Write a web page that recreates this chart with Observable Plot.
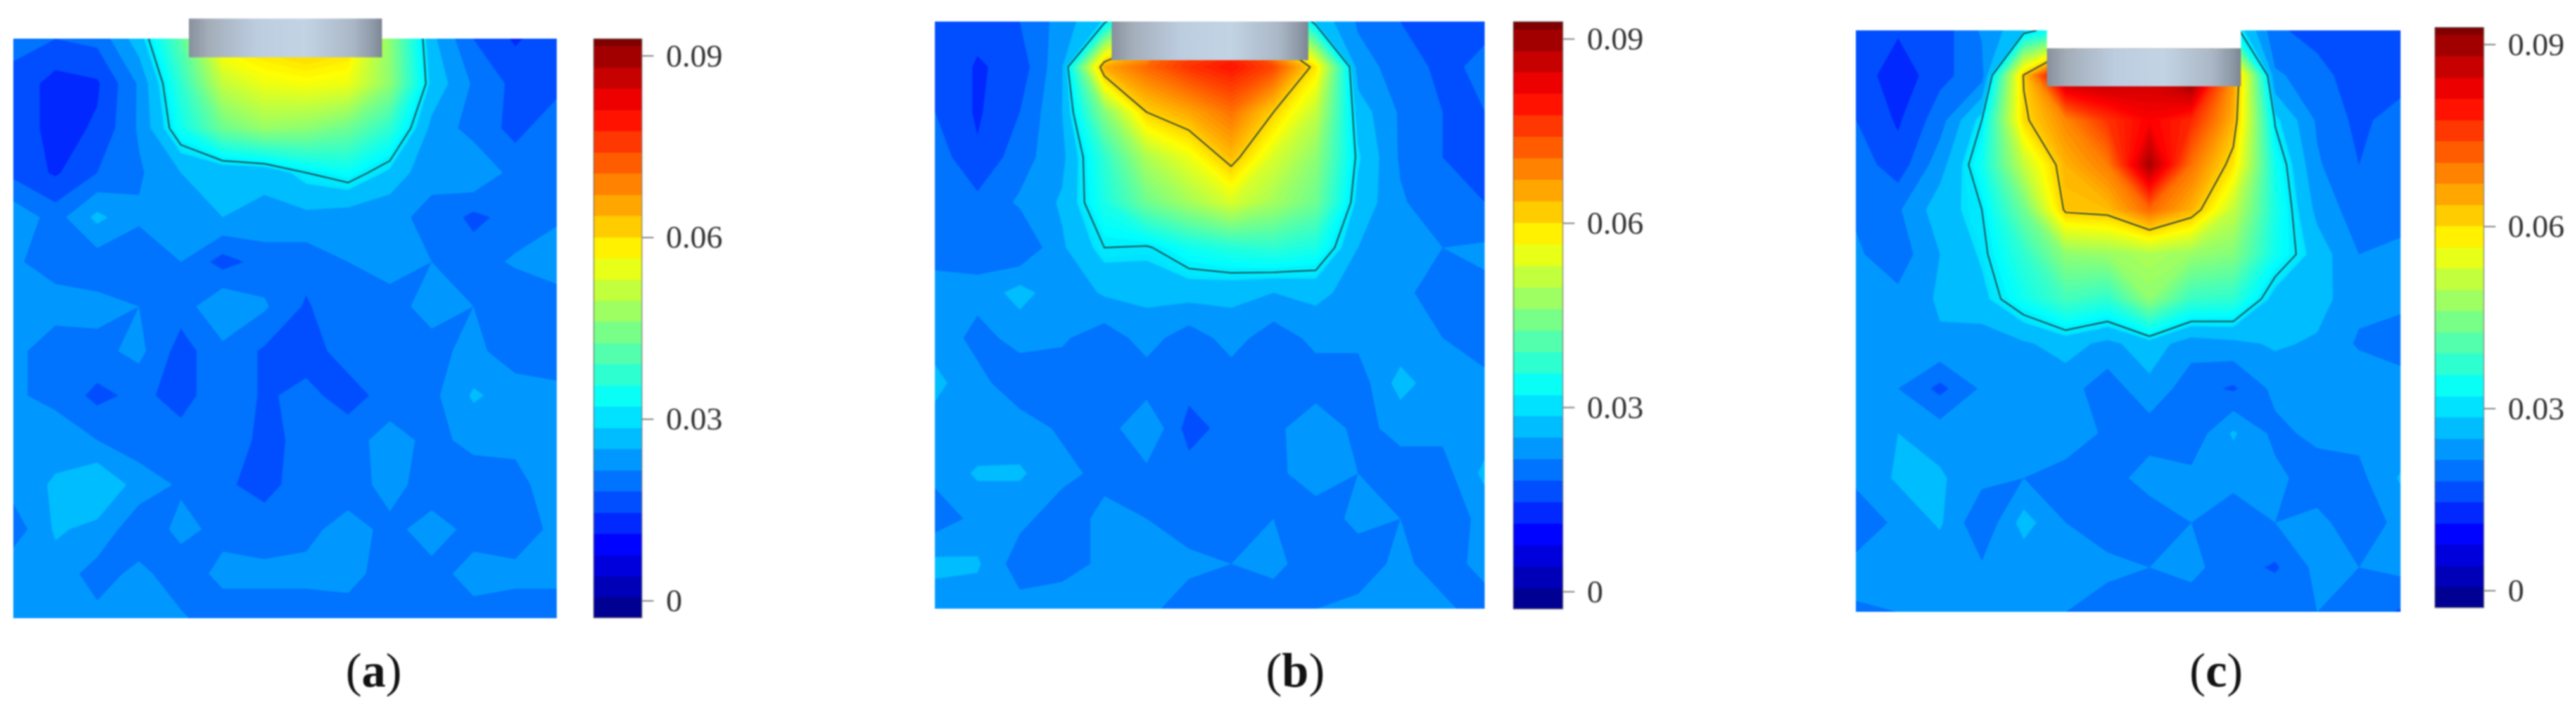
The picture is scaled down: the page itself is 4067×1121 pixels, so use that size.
<!DOCTYPE html>
<html>
<head>
<meta charset="utf-8">
<script src="https://cdn.jsdelivr.net/npm/d3@7"></script>
<script src="https://cdn.jsdelivr.net/npm/@observablehq/plot@0.6"></script>
<style>
html,body{margin:0;padding:0;background:#fff;}
#page{position:relative;width:4067px;height:1121px;overflow:hidden;background:#fff;}
.piece{position:absolute;filter:blur(1.3px);}
.piece svg{display:block;overflow:visible;background:transparent;}
.cap{position:absolute;font-family:"Liberation Serif",serif;font-size:76px;line-height:1;color:#111;transform:translateX(-50%);white-space:nowrap;filter:blur(0.8px);}
</style>
</head>
<body>
<div id="page"></div>
<script>
const panelNames = ["a","b","c"];
const tickValues = [0,0.03,0.06,0.09];

const fieldA = [
[.019,.018,.019,.027,.040,.058,.060,.062,.060,.045,.026,.018,.014,.017],
[.017,.013,.014,.022,.036,.050,.054,.055,.054,.045,.0276,.021,.017,.017],
[.017,.013,.015,.022,.033,.042,.046,.045,.042,.036,.024,.020,.017,.020],
[.017,.014,.018,.021,.025,.0256,.026,.030,.032,.0278,.022,.025,.020,.021],
[.024,.020,.026,.022,.024,.025,.024,.024,.023,.022,.021,.017,.0195,.021],
[.022,.020,.0195,.0195,.0215,.0165,.0195,.0195,.0215,.0225,.0215,.020,.022,.0235],
[.023,.023,.0225,.0215,.0195,.025,.022,.0175,.0215,.0205,.0225,.0215,.0185,.0195],
[.0225,.0195,.0205,.0225,.0165,.0205,.0175,.0165,.0195,.0195,.0205,.0225,.0195,.0195],
[.022,.0205,.017,.019,.0165,.0205,.0175,.019,.0165,.0195,.0205,.0255,.0235,.0225],
[.023,.0235,.0215,.0195,.0195,.0215,.0165,.0195,.020,.023,.0205,.0225,.023,.023],
[.023,.0255,.0285,.0235,.021,.0185,.017,.0195,.0195,.023,.0195,.0195,.0195,.025],
[.0195,.0255,.024,.019,.0225,.0205,.0195,.0205,.023,.0205,.023,.0205,.0195,.0225],
[.0245,.0235,.020,.0225,.0195,.0225,.0225,.0225,.023,.0195,.0205,.0225,.0225,.0225],
[.023,.023,.0225,.0235,.022,.0195,.0195,.0195,.0195,.0195,.0205,.0205,.0195,.0195]
];
const fieldB = [
[.017,.016,.018,.023,.029,.050,.070,.070,.050,.028,.021,.018,.016,.017],
[.018,.014,.016,.0245,.064,.070,.075,.078,.073,.058,.023,.020,.017,.019],
[.018,.014,.018,.025,.044,.060,.064,.069,.060,.050,.027,.021,.018,.018],
[.020,.015,.020,.024,.036,.048,.054,.062,.052,.045,.029,.021,.018,.018],
[.020,.019,.022,.0255,.034,.042,.047,.052,.047,.042,.0275,.022,.019,.018],
[.020,.020,.018,.0245,.030,.0295,.033,.035,.036,.034,.025,.023,.0215,.022],
[.023,.0225,.0265,.0225,.0255,.026,.0265,.026,.025,.026,.0235,.0225,.0195,.021],
[.0235,.0205,.0225,.022,.0195,.023,.0195,.023,.0195,.0225,.0225,.0225,.0215,.0195],
[.026,.0225,.0195,.0195,.0195,.0195,.0195,.0195,.0195,.0195,.0195,.0265,.0225,.0225],
[.0235,.0225,.023,.021,.0195,.025,.0165,.0195,.0205,.024,.0205,.0225,.0225,.023],
[.0225,.0255,.0255,.0225,.0205,.0205,.0195,.0195,.0205,.0235,.0215,.020,.020,.026],
[.0195,.0225,.0225,.0195,.0225,.0215,.0195,.0195,.0215,.0195,.0225,.0215,.0195,.0225],
[.026,.0255,.0195,.0205,.022,.0225,.0225,.0215,.0225,.0195,.0195,.0225,.0195,.023],
[.023,.023,.023,.023,.023,.0225,.0195,.0195,.0195,.0215,.0225,.0225,.0225,.0195]
];
const fieldC = [
[.016,.015,.016,.022,.028,.035,.060,.065,.060,.032,.019,.016,.017,.015],
[.017,.012,.017,.020,.0605,.088,.088,.085,.092,.066,.022,.020,.015,.016],
[.018,.014,.020,.030,.059,.067,.075,.080,.076,.063,.0295,.021,.017,.020],
[.020,.016,.0235,.033,.050,.063,.068,.088,.069,.058,.033,.022,.018,.021],
[.021,.021,.027,.030,.042,.061,.062,.070,.063,.050,.034,.024,.0195,.019],
[.022,.0195,.025,.029,.036,.045,.046,.048,.046,.044,.033,.027,.0215,.023],
[.024,.0225,.0255,.0275,.033,.038,.036,.045,.037,.036,.027,.0265,.0225,.0225],
[.0225,.023,.0245,.023,.0245,.0265,.024,.027,.023,.024,.0255,.0245,.021,.0195],
[.0245,.0215,.017,.022,.0215,.023,.0195,.024,.0195,.0175,.0225,.025,.0245,.0235],
[.022,.025,.0235,.0225,.022,.025,.0205,.0195,.019,.0255,.0205,.0225,.0225,.022],
[.0225,.0255,.0255,.0225,.0215,.019,.0195,.0235,.0225,.0225,.0225,.0195,.0205,.0255],
[.0185,.0225,.0255,.0185,.0265,.0215,.0195,.0185,.0215,.0195,.0215,.0225,.0195,.0225],
[.023,.0225,.0225,.022,.0225,.0225,.0225,.0215,.0225,.0195,.0175,.0225,.0215,.0225],
[.021,.0215,.0215,.0215,.024,.0215,.0195,.0195,.0195,.0215,.0215,.0215,.0205,.0175]
];
const fields = [fieldA, fieldB, fieldC];

// cylinder extent in grid units: left, right, top, bottom
const cylinderLeft = [4.2,4.18,4.56];
const cylinderRight = [8.82,8.83,9.19];
const cylinderTop = [-0.45,0,0.40];
const cylinderBottom = [0.42,0.855,1.25];
const notchTop = [null,null,-0.02];

// jet colour ramp
const rampValues = [-0.0048,0.0072,0.0312,0.0552,0.0792,0.0912];
const rampColors = ["#000080","#0000ff","#00ffff","#ffff00","#ff0000","#800000"];
const lineLevels = [[0.03],[0.03,0.06],[0.03,0.06]];
const step = 0.0035;
const levels = d3.range(-0.003,0.093,step);
const mapLevels = [...levels.filter(v=>v<0.029), ...d3.range(0.029,0.093,0.001)];
const barMin = -0.0028, barMax = 0.0928;

// page layout
const heatBox = [
  {left:21,top:61,width:858,height:915,over:31},
  {left:1476,top:34,width:868,height:927,over:0},
  {left:2930,top:48,width:860,height:918,over:0}
];
const barBox = [
  {left:937,top:61,width:76,height:914},
  {left:2389,top:34,width:78,height:927},
  {left:3844,top:43,width:77,height:916}
];
const capX = [590,2045,3499];
const capY = [1020,1020,1020];

const page = document.getElementById("page");
const colorOpts = {type:"linear",domain:rampValues,range:rampColors,clamp:true};

panelNames.forEach((name,p)=>{
  const values = fields[p].flat();
  const box = heatBox[p];
  const gradId = "cyl-"+name;
  const cyl = [{x1:cylinderLeft[p],x2:cylinderRight[p],y1:cylinderTop[p],y2:cylinderBottom[p]}];
  const notch = notchTop[p]===null ? [] : [{x1:cylinderLeft[p],x2:cylinderRight[p],y1:notchTop[p],y2:cylinderTop[p]}];
  const grid = {width:14,height:14,x1:-0.5,y1:-0.5,x2:13.5,y2:13.5};
  const heat = Plot.plot({
    width:box.width, height:box.height+box.over,
    marginLeft:0, marginRight:0, marginBottom:0, marginTop:box.over,
    x:{axis:null,domain:[0,13]},
    y:{axis:null,domain:[0,13],reverse:true},
    color:colorOpts,
    marks:[
      ()=>{
        const defs = d3.create("svg:defs");
        const g = defs.append("linearGradient").attr("id",gradId);
        [[0,"#87909c"],[.1,"#a3adb9"],[.35,"#bccde0"],[.6,"#c2d4e4"],[.85,"#aab7c6"],[.95,"#8f9aa8"],[1,"#7c8693"]]
          .forEach(([o,c])=>g.append("stop").attr("offset",o).attr("stop-color",c));
        return defs.node();
      },
      Plot.contour(values,{...grid,fill:Plot.identity,thresholds:mapLevels,clip:true}),
      Plot.contour(values,{...grid,fill:"none",stroke:"#1d3b3f",strokeWidth:2,thresholds:lineLevels[p],clip:true}),
      Plot.rect(notch,{x1:"x1",x2:"x2",y1:"y1",y2:"y2",fill:"white"}),
      Plot.rect(cyl,{x1:"x1",x2:"x2",y1:"y1",y2:"y2",fill:"url(#"+gradId+")"})
    ]
  });
  const hw = document.createElement("div");
  hw.className="piece";
  hw.style.left=box.left+"px";
  hw.style.top=(box.top-box.over)+"px";
  hw.appendChild(heat);
  page.appendChild(hw);

  const bb = barBox[p];
  const bands = levels.map(lo=>({lo,a:Math.max(lo,barMin),b:Math.min(lo+step,barMax)})).filter(d=>d.b>d.a);
  const bar = Plot.plot({
    width:bb.width+130, height:bb.height,
    marginLeft:0, marginRight:130, marginTop:0, marginBottom:0,
    x:{axis:null,domain:[0,1]},
    y:{domain:[barMin,barMax],axis:null},
    color:colorOpts,
    marks:[
      Plot.rect(bands,{x1:0,x2:1,y1:"a",y2:"b",fill:"lo",shapeRendering:"crispEdges"}),
      Plot.frame({stroke:"#555",strokeWidth:1.5,strokeOpacity:0.7}),
      Plot.axisY({anchor:"right",ticks:tickValues,tickSize:18,tickPadding:20,stroke:"#777",strokeWidth:2,
        tickFormat:d=>d===0?"0":d3.format(".2f")(d),fontSize:51,fontFamily:"Liberation Serif",fill:"#333",label:null})
    ]
  });
  const bw = document.createElement("div");
  bw.className="piece";
  bw.style.left=bb.left+"px";
  bw.style.top=bb.top+"px";
  bw.appendChild(bar);
  page.appendChild(bw);

  const cap = document.createElement("div");
  cap.className="cap";
  cap.style.left=capX[p]+"px";
  cap.style.top=capY[p]+"px";
  cap.innerHTML="(<b>"+name+"</b>)";
  page.appendChild(cap);
});
</script>
</body>
</html>
